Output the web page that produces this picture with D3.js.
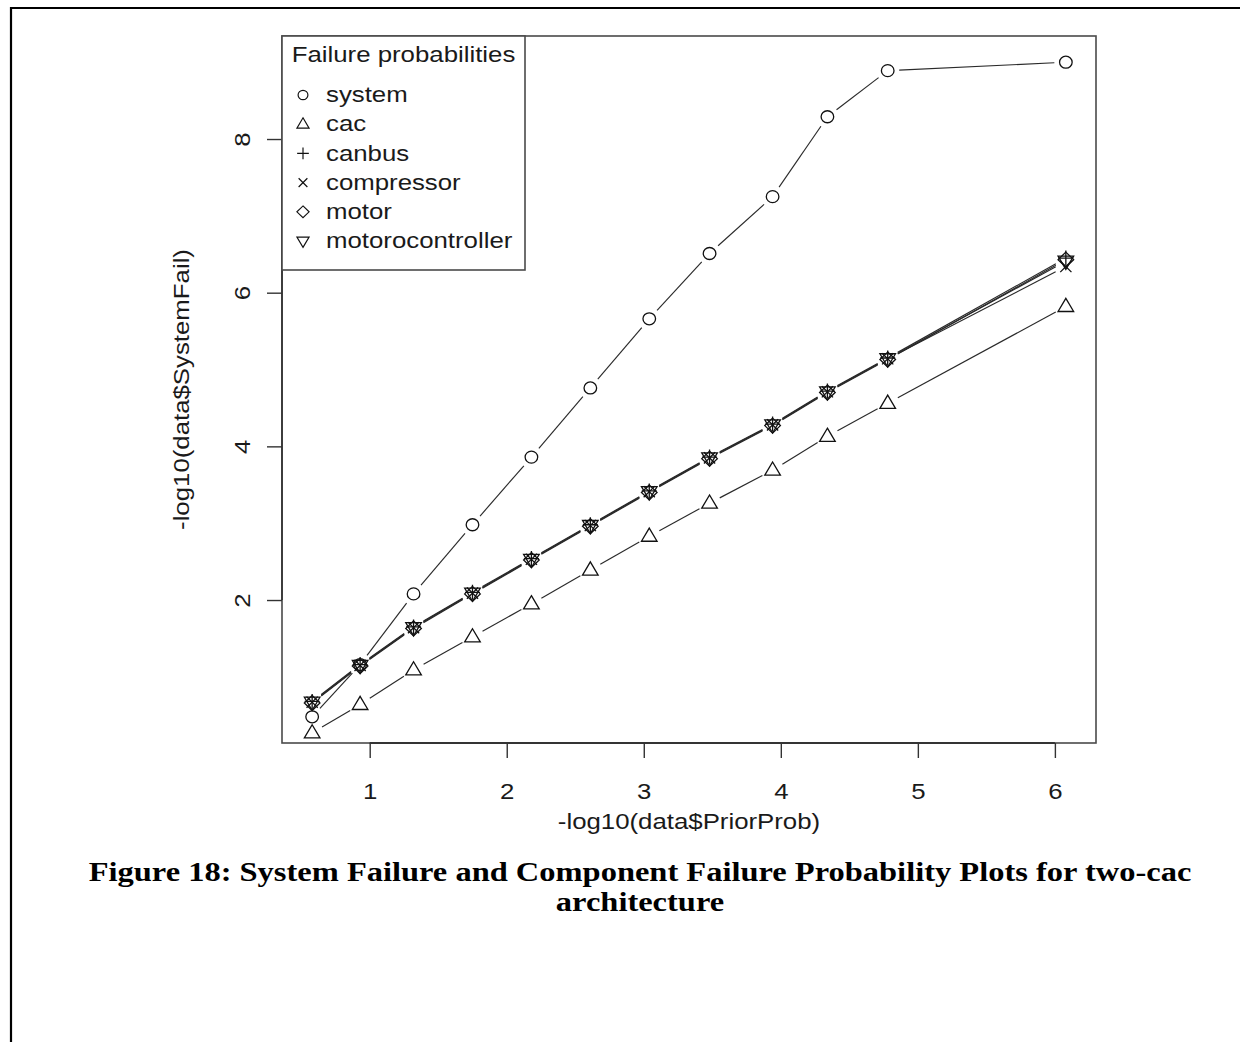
<!DOCTYPE html>
<html>
<head>
<meta charset="utf-8">
<script src="https://cdn.jsdelivr.net/npm/d3@7"></script>
<style>
  body { margin: 0; background: #fff; }
  svg { display: block; }
  .lbl { font-family: "Liberation Sans", Arial, sans-serif; fill: #1a1a1a; }
  .cap { font-family: "Liberation Serif", "Times New Roman", serif; font-weight: bold; fill: #000; }
</style>
</head>
<body>
<script>
// -log10 of the prior probability (x) for each run
const priorProb = [0.58, 0.93, 1.32, 1.75, 2.18, 2.61, 3.04, 3.48, 3.94, 4.34, 4.78, 6.08];

// -log10 of failure probabilities (y)
const systemFail     = [0.48, 1.16, 2.08, 2.98, 3.86, 4.76, 5.66, 6.51, 7.25, 8.29, 8.89, 9.00];
const cacFail        = [0.27, 0.64, 1.09, 1.52, 1.95, 2.39, 2.83, 3.26, 3.69, 4.13, 4.56, 5.82];
const canbusFail     = [0.68, 1.16, 1.65, 2.10, 2.54, 2.98, 3.42, 3.86, 4.29, 4.72, 5.15, 6.45];
const compressorFail = [0.67, 1.15, 1.64, 2.09, 2.53, 2.97, 3.41, 3.85, 4.28, 4.71, 5.14, 6.34];
const motorFail      = [0.66, 1.14, 1.63, 2.08, 2.52, 2.96, 3.40, 3.84, 4.27, 4.70, 5.13, 6.43];
const motorCtrlFail  = [0.67, 1.15, 1.64, 2.09, 2.53, 2.97, 3.41, 3.85, 4.28, 4.71, 5.14, 6.41];

const seriesNames  = ["system", "cac", "canbus", "compressor", "motor", "motorocontroller"];
const seriesValues = [systemFail, cacFail, canbusFail, compressorFail, motorFail, motorCtrlFail];
const seriesPch    = ["circle", "triUp", "plus", "cross", "diamond", "triDown"];

const xTicks = [1, 2, 3, 4, 5, 6];
const yTicks = [2, 4, 6, 8];

const legendTitle = "Failure probabilities";
const xLabel = "-log10(data$PriorProb)";
const yLabel = "-log10(data$SystemFail)";
const captionLines = [
  "Figure 18: System Failure and Component Failure Probability Plots for two-cac",
  "architecture"
];

const W = 1240, H = 1042;
const box = { left: 282, right: 1096, top: 36, bottom: 743 };

const svg = d3.select("body").append("svg")
  .attr("width", W).attr("height", H);

// page frame
svg.append("line").attr("x1", 10).attr("x2", W).attr("y1", 8).attr("y2", 8)
  .attr("stroke", "#000").attr("stroke-width", 2.2);
svg.append("line").attr("x1", 11).attr("x2", 11).attr("y1", 7).attr("y2", H)
  .attr("stroke", "#000").attr("stroke-width", 2.2);

// R-style ranges: data extent padded by 4% on each side
function padded(ext) {
  const d = ext[1] - ext[0];
  return [ext[0] - 0.04 * d, ext[1] + 0.04 * d];
}
const x = d3.scaleLinear().domain(padded(d3.extent(priorProb))).range([box.left, box.right]);
const y = d3.scaleLinear().domain(padded(d3.extent(systemFail))).range([box.bottom, box.top]);

// plotting symbols (pch 1..6)
const symbolPaths = {
  circle:  "M6.3,0A6.3,6 0 1,1 -6.3,0A6.3,6 0 1,1 6.3,0Z",
  triUp:   "M0,-8.2L7.8,5L-7.8,5Z",
  triDown: "M0,8.2L7.8,-5L-7.8,-5Z",
  plus:    "M-7.5,0H7.5M0,-7.5V7.5",
  cross:   "M-5.6,-5.6L5.6,5.6M-5.6,5.6L5.6,-5.6",
  diamond: "M0,-7.5L7.8,0L0,7.5L-7.8,0Z"
};

// text with the wide glyph proportions used throughout the figure
const fontSize = 21.5, stretch = 1.2;
function wideText(sel, tx, ty, rot) {
  return sel.attr("transform", `translate(${tx},${ty})${rot ? ` rotate(${rot})` : ""} scale(${stretch},1)`);
}

const plot = svg.append("g");

// connecting segments with gaps around the points (type = "b")
const gap = 11.5;
seriesValues.forEach((vals) => {
  const pts = priorProb.map((px, i) => [x(px), y(vals[i])]);
  const segs = [];
  for (let i = 0; i < pts.length - 1; i++) {
    const [x0, y0] = pts[i], [x1, y1] = pts[i + 1];
    const d = Math.hypot(x1 - x0, y1 - y0);
    if (d <= 2 * gap) continue;
    const ux = (x1 - x0) / d, uy = (y1 - y0) / d;
    segs.push([[x0 + ux * gap, y0 + uy * gap], [x1 - ux * gap, y1 - uy * gap]]);
  }
  plot.append("g").selectAll("line").data(segs).join("line")
    .attr("x1", s => s[0][0]).attr("y1", s => s[0][1])
    .attr("x2", s => s[1][0]).attr("y2", s => s[1][1])
    .attr("stroke", "#2a2a2a").attr("stroke-width", 1.15);
});

// point symbols
seriesValues.forEach((vals, k) => {
  plot.append("g").selectAll("path").data(priorProb).join("path")
    .attr("transform", (px, i) => `translate(${x(px)},${y(vals[i])})`)
    .attr("d", symbolPaths[seriesPch[k]])
    .attr("fill", "none").attr("stroke", "#111").attr("stroke-width", 1.3);
});

// plot box
svg.append("rect")
  .attr("x", box.left).attr("y", box.top)
  .attr("width", box.right - box.left).attr("height", box.bottom - box.top)
  .attr("fill", "none").attr("stroke", "#4a4a4a").attr("stroke-width", 1.6);

// x axis
const xAxis = d3.axisBottom(x).tickValues(xTicks).tickSize(15).tickFormat(d3.format("d"));
const gx = svg.append("g").attr("transform", `translate(0,${box.bottom})`).call(xAxis);
gx.select(".domain").attr("d", `M${x(xTicks[0])},0H${x(xTicks[xTicks.length - 1])}`)
  .attr("stroke", "#222").attr("stroke-width", 1.3);
gx.selectAll(".tick line").attr("stroke", "#333").attr("stroke-width", 1.4);
gx.selectAll(".tick text").each(function () {
  const t = d3.select(this);
  t.attr("class", "lbl").attr("font-size", fontSize).attr("fill", "#1a1a1a")
    .attr("y", null).attr("dy", null)
    .attr("text-anchor", "middle").attr("dominant-baseline", "central");
  wideText(t, 0, 49, 0);
});

// y axis
const yAxis = d3.axisLeft(y).tickValues(yTicks).tickSize(15).tickFormat(d3.format("d"));
const gy = svg.append("g").attr("transform", `translate(${box.left},0)`).call(yAxis);
gy.select(".domain").attr("d", `M0,${y(yTicks[0])}V${y(yTicks[yTicks.length - 1])}`)
  .attr("stroke", "#222").attr("stroke-width", 1.3);
gy.selectAll(".tick line").attr("stroke", "#333").attr("stroke-width", 1.4);
gy.selectAll(".tick text").each(function () {
  const t = d3.select(this);
  t.attr("class", "lbl").attr("font-size", fontSize).attr("fill", "#1a1a1a")
    .attr("x", null).attr("dy", null)
    .attr("text-anchor", "middle").attr("dominant-baseline", "central");
  wideText(t, -39, 0, -90);
});

// axis titles
wideText(svg.append("text").attr("class", "lbl")
  .attr("text-anchor", "middle").attr("dominant-baseline", "central")
  .attr("font-size", fontSize).text(xLabel), (box.left + box.right) / 2, 822, 0);
wideText(svg.append("text").attr("class", "lbl")
  .attr("text-anchor", "middle").attr("dominant-baseline", "central")
  .attr("font-size", fontSize).text(yLabel), 182, (box.top + box.bottom) / 2, -90);

// legend
const lg = svg.append("g");
const lgBox = { x: box.left, y: box.top, w: 243, h: 234 };
lg.append("rect").attr("x", lgBox.x).attr("y", lgBox.y).attr("width", lgBox.w).attr("height", lgBox.h)
  .attr("fill", "#fff").attr("stroke", "#4a4a4a").attr("stroke-width", 1.6);
wideText(lg.append("text").attr("class", "lbl")
  .attr("text-anchor", "middle").attr("dominant-baseline", "central")
  .attr("font-size", fontSize).text(legendTitle), lgBox.x + lgBox.w / 2, lgBox.y + 19, 0);
const rowY = i => lgBox.y + 59 + i * 29.2;
lg.selectAll("path.key").data(seriesNames).join("path")
  .attr("class", "key")
  .attr("transform", (d, i) => `translate(${lgBox.x + 21},${rowY(i)}) scale(0.78)`)
  .attr("d", (d, i) => symbolPaths[seriesPch[i]])
  .attr("fill", "none").attr("stroke", "#111").attr("stroke-width", 1.5);
lg.selectAll("text.item").data(seriesNames).join("text")
  .attr("class", "lbl item")
  .attr("dominant-baseline", "central")
  .attr("font-size", fontSize)
  .text(d => d)
  .each(function (d, i) { wideText(d3.select(this), lgBox.x + 44, rowY(i), 0); });

// figure caption
svg.append("g").selectAll("text").data(captionLines).join("text")
  .attr("class", "cap")
  .attr("text-anchor", "middle").attr("dominant-baseline", "central")
  .attr("font-size", 28)
  .attr("transform", (d, i) => `translate(640,${872 + i * 30}) scale(1.16,1)`)
  .text(d => d);
</script>
</body>
</html>
